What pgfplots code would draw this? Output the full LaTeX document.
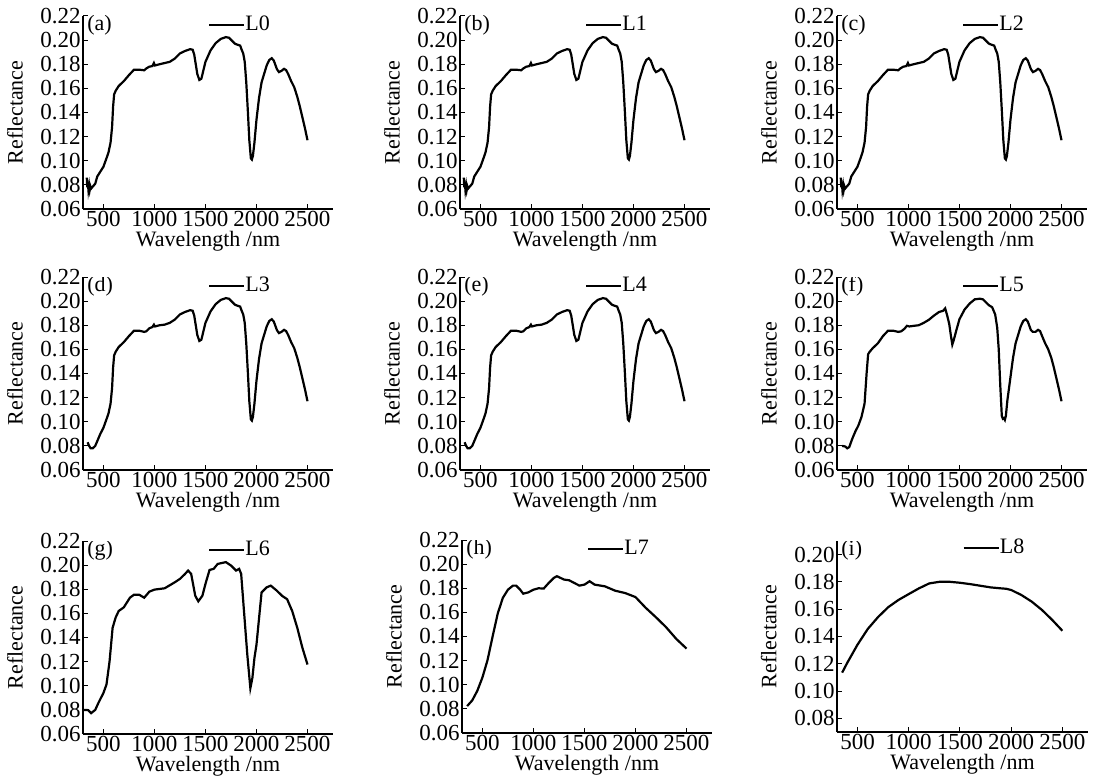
\documentclass[border=0pt]{standalone}
\usepackage{pgfplots}
\pgfplotsset{compat=1.18}
\usepackage{pgfplotstable}
\usepackage{fontspec}
\setmainfont{Liberation Serif}
\newcommand{\fs}{\fontsize{11bp}{13bp}\selectfont}
\newcommand{\ft}{\fontsize{11.5bp}{13bp}\selectfont}

\pgfplotstableread{
x y
337 0.086
342 0.078
348 0.082
353 0.076
360 0.080
366 0.076
372 0.079
380 0.077
390 0.078
400 0.079
420 0.081
440 0.087
470 0.091
500 0.095
530 0.102
550 0.107
570 0.115
585 0.128
595 0.145
605 0.155
620 0.158
650 0.162
700 0.166
750 0.171
800 0.1755
850 0.1755
900 0.175
920 0.1765
950 0.178
980 0.1785
995 0.181
1005 0.179
1050 0.180
1100 0.181
1150 0.182
1200 0.1847
1250 0.189
1300 0.191
1350 0.1925
1375 0.192
1390 0.188
1405 0.180
1420 0.172
1440 0.167
1460 0.168
1480 0.175
1500 0.182
1550 0.1915
1600 0.1975
1650 0.201
1700 0.2025
1730 0.202
1760 0.1995
1790 0.197
1820 0.196
1840 0.1955
1855 0.192
1870 0.189
1885 0.182
1900 0.165
1915 0.142
1930 0.117
1945 0.102
1955 0.101
1965 0.104
1980 0.115
2000 0.134
2025 0.152
2050 0.165
2075 0.172
2100 0.179
2125 0.1835
2150 0.185
2170 0.183
2200 0.176
2220 0.1735
2245 0.1745
2270 0.1762
2290 0.1752
2310 0.172
2340 0.166
2370 0.161
2400 0.153
2425 0.145
2450 0.136
2475 0.127
2500 0.117
}\dataA

\pgfplotstableread{
x y
345 0.083
360 0.080
375 0.078
395 0.078
420 0.080
450 0.086
470 0.090
500 0.095
530 0.102
550 0.107
570 0.115
585 0.128
595 0.145
605 0.155
620 0.158
650 0.162
700 0.166
750 0.171
800 0.1755
850 0.1755
900 0.1745
920 0.175
950 0.1775
980 0.1785
995 0.1805
1005 0.179
1050 0.180
1100 0.1805
1150 0.182
1200 0.1847
1250 0.189
1300 0.191
1350 0.1925
1375 0.192
1390 0.188
1405 0.180
1420 0.172
1440 0.167
1460 0.168
1480 0.175
1500 0.182
1550 0.1915
1600 0.1975
1650 0.201
1700 0.2025
1730 0.202
1760 0.1995
1790 0.197
1820 0.196
1840 0.1955
1855 0.192
1870 0.189
1885 0.182
1900 0.165
1915 0.142
1930 0.117
1945 0.102
1955 0.101
1965 0.104
1980 0.115
2000 0.134
2025 0.152
2050 0.165
2075 0.172
2100 0.179
2125 0.1835
2150 0.185
2170 0.183
2200 0.176
2220 0.1735
2245 0.1745
2270 0.1762
2290 0.1752
2310 0.172
2340 0.166
2370 0.161
2400 0.153
2425 0.145
2450 0.136
2475 0.127
2500 0.117
}\dataD

\pgfplotstableread{
x y
350 0.080
380 0.0795
400 0.078
420 0.079
450 0.086
480 0.092
510 0.097
540 0.104
570 0.115
590 0.140
605 0.156
620 0.158
650 0.161
700 0.165
750 0.171
800 0.1755
850 0.1755
900 0.1745
930 0.175
960 0.177
985 0.1795
1010 0.179
1050 0.1795
1100 0.180
1150 0.182
1200 0.1845
1250 0.188
1300 0.191
1340 0.192
1360 0.194
1380 0.188
1400 0.181
1415 0.172
1430 0.164
1445 0.168
1470 0.176
1500 0.185
1550 0.193
1600 0.198
1650 0.2015
1700 0.202
1730 0.2015
1760 0.199
1790 0.1965
1820 0.195
1850 0.189
1870 0.178
1885 0.160
1900 0.130
1915 0.105
1925 0.1025
1935 0.103
1945 0.1015
1955 0.105
1970 0.118
2000 0.137
2025 0.153
2050 0.165
2075 0.172
2100 0.179
2125 0.1835
2150 0.185
2170 0.183
2200 0.176
2220 0.1745
2245 0.1745
2270 0.1762
2290 0.1752
2310 0.171
2340 0.165
2370 0.160
2400 0.153
2425 0.145
2450 0.136
2475 0.127
2500 0.117
}\dataF

\pgfplotstableread{
x y
300 0.080
350 0.0798
380 0.0773
420 0.080
450 0.0856
500 0.094
530 0.101
560 0.120
590 0.148
620 0.1566
650 0.162
700 0.165
720 0.1677
760 0.173
800 0.1755
850 0.1755
900 0.173
950 0.178
1000 0.1797
1100 0.1808
1200 0.1858
1250 0.1886
1300 0.1927
1330 0.1955
1360 0.1927
1400 0.1746
1430 0.170
1470 0.1746
1500 0.1844
1540 0.196
1580 0.1969
1620 0.201
1700 0.2025
1750 0.1997
1800 0.1955
1830 0.1969
1850 0.1927
1880 0.1593
1910 0.126
1940 0.098
1960 0.1065
1980 0.123
2000 0.134
2050 0.1774
2100 0.1816
2140 0.183
2200 0.1788
2250 0.1746
2300 0.1718
2350 0.162
2400 0.148
2450 0.1315
2500 0.1176
}\dataG

\pgfplotstableread{
x y
350 0.0823
400 0.087
450 0.095
500 0.106
550 0.1204
600 0.140
650 0.159
700 0.172
750 0.1788
800 0.1822
830 0.1822
870 0.1788
900 0.1755
950 0.1766
1000 0.1788
1050 0.180
1100 0.1797
1150 0.1844
1200 0.1886
1230 0.190
1300 0.1872
1350 0.1866
1400 0.1844
1450 0.1822
1500 0.183
1550 0.1858
1600 0.183
1700 0.1816
1800 0.178
1900 0.176
2000 0.1727
2100 0.1638
2200 0.156
2300 0.1477
2400 0.138
2500 0.130
}\dataH

\pgfplotstableread{
x y
350 0.1135
400 0.1207
500 0.134
600 0.1455
700 0.1542
800 0.1615
900 0.1668
1000 0.1711
1100 0.1753
1200 0.1789
1300 0.1801
1400 0.1801
1500 0.1794
1600 0.1784
1700 0.1772
1800 0.176
1900 0.1753
1950 0.175
2000 0.1741
2100 0.1704
2200 0.1656
2300 0.1595
2400 0.1522
2500 0.1442
}\dataI

\pgfplotsset{
 panel/.style={
  scale only axis, width=125bp, height=96.5bp,
  axis lines=left, axis line style={-, line width=0.6bp, black},
  xmin=300, xmax=2750, ymin=0.06, ymax=0.22,
  xtick={500,1000,1500,2000,2500},
  ytick={0.06,0.08,0.10,0.12,0.14,0.16,0.18,0.20,0.22},
  tick align=inside, major tick length=2.5bp,
  tick style={line width=0.5bp, black},
  /pgf/number format/assume math mode=true,
  yticklabel style={/pgf/number format/fixed, /pgf/number format/fixed zerofill, /pgf/number format/precision=2},
  scaled y ticks=false,
  xticklabel style={/pgf/number format/1000 sep={}},
  tick label style={font=\ft, inner sep=1bp},
  label style={font=\fs},
  xlabel={Wavelength /nm}, ylabel={Reflectance},
  xlabel style={at={(axis description cs:0.5,-0.112)}, anchor=north, inner sep=0pt},
  ylabel style={at={(axis description cs:-0.272,0.5)}, anchor=center, inner sep=0pt},
  legend style={at={(0.5,0.953)}, anchor=west, draw=none, fill=none, font=\fs, inner sep=0pt,
    nodes={inner sep=0.3bp}, column sep=0pt},
  legend image code/.code={\draw[#1, line width=0.7bp] (0bp,0bp) -- (17.5bp,0bp);},
  cycle list={{black, solid}},
  every axis plot/.append style={line width=1.1bp},
  no markers,
 }
}
\newcommand{\plab}[1]{\node[anchor=west, font=\fs, inner sep=0.5bp] at (rel axis cs:0.012,0.953) {#1};}

\begin{document}
\begin{tikzpicture}
\useasboundingbox (0,0) rectangle (549bp,-390.5bp);
\begin{axis}[panel, at={(41.5bp,-8bp)}, anchor=north west]
\addplot table {\dataA}; \addlegendentry{L0}
\plab{(a)}
\end{axis}
\begin{axis}[panel, at={(230bp,-8bp)}, anchor=north west]
\addplot table {\dataA}; \addlegendentry{L1}
\plab{(b)}
\end{axis}
\begin{axis}[panel, at={(418.5bp,-8bp)}, anchor=north west]
\addplot table {\dataA}; \addlegendentry{L2}
\plab{(c)}
\end{axis}
\begin{axis}[panel, at={(41.5bp,-138.5bp)}, anchor=north west]
\addplot table {\dataD}; \addlegendentry{L3}
\plab{(d)}
\end{axis}
\begin{axis}[panel, at={(230bp,-138.5bp)}, anchor=north west]
\addplot table {\dataD}; \addlegendentry{L4}
\plab{(e)}
\end{axis}
\begin{axis}[panel, at={(418.5bp,-138.5bp)}, anchor=north west]
\addplot table {\dataF}; \addlegendentry{L5}
\plab{(f)}
\end{axis}
\begin{axis}[panel, at={(41.5bp,-270.5bp)}, anchor=north west]
\addplot table {\dataG}; \addlegendentry{L6}
\plab{(g)}
\end{axis}
\begin{axis}[panel, at={(231bp,-270bp)}, anchor=north west]
\addplot table {\dataH}; \addlegendentry{L7}
\plab{(h)}
\end{axis}
\begin{axis}[panel, at={(418.5bp,-270.5bp)}, anchor=north west, width=125.5bp, height=95.5bp,
  ymin=0.07, ymax=0.21, ytick={0.08,0.10,0.12,0.14,0.16,0.18,0.20},
  legend style={at={(0.5,0.963)}}]
\addplot table {\dataI}; \addlegendentry{L8}
\plab{(i)}
\end{axis}
\end{tikzpicture}
\end{document}
